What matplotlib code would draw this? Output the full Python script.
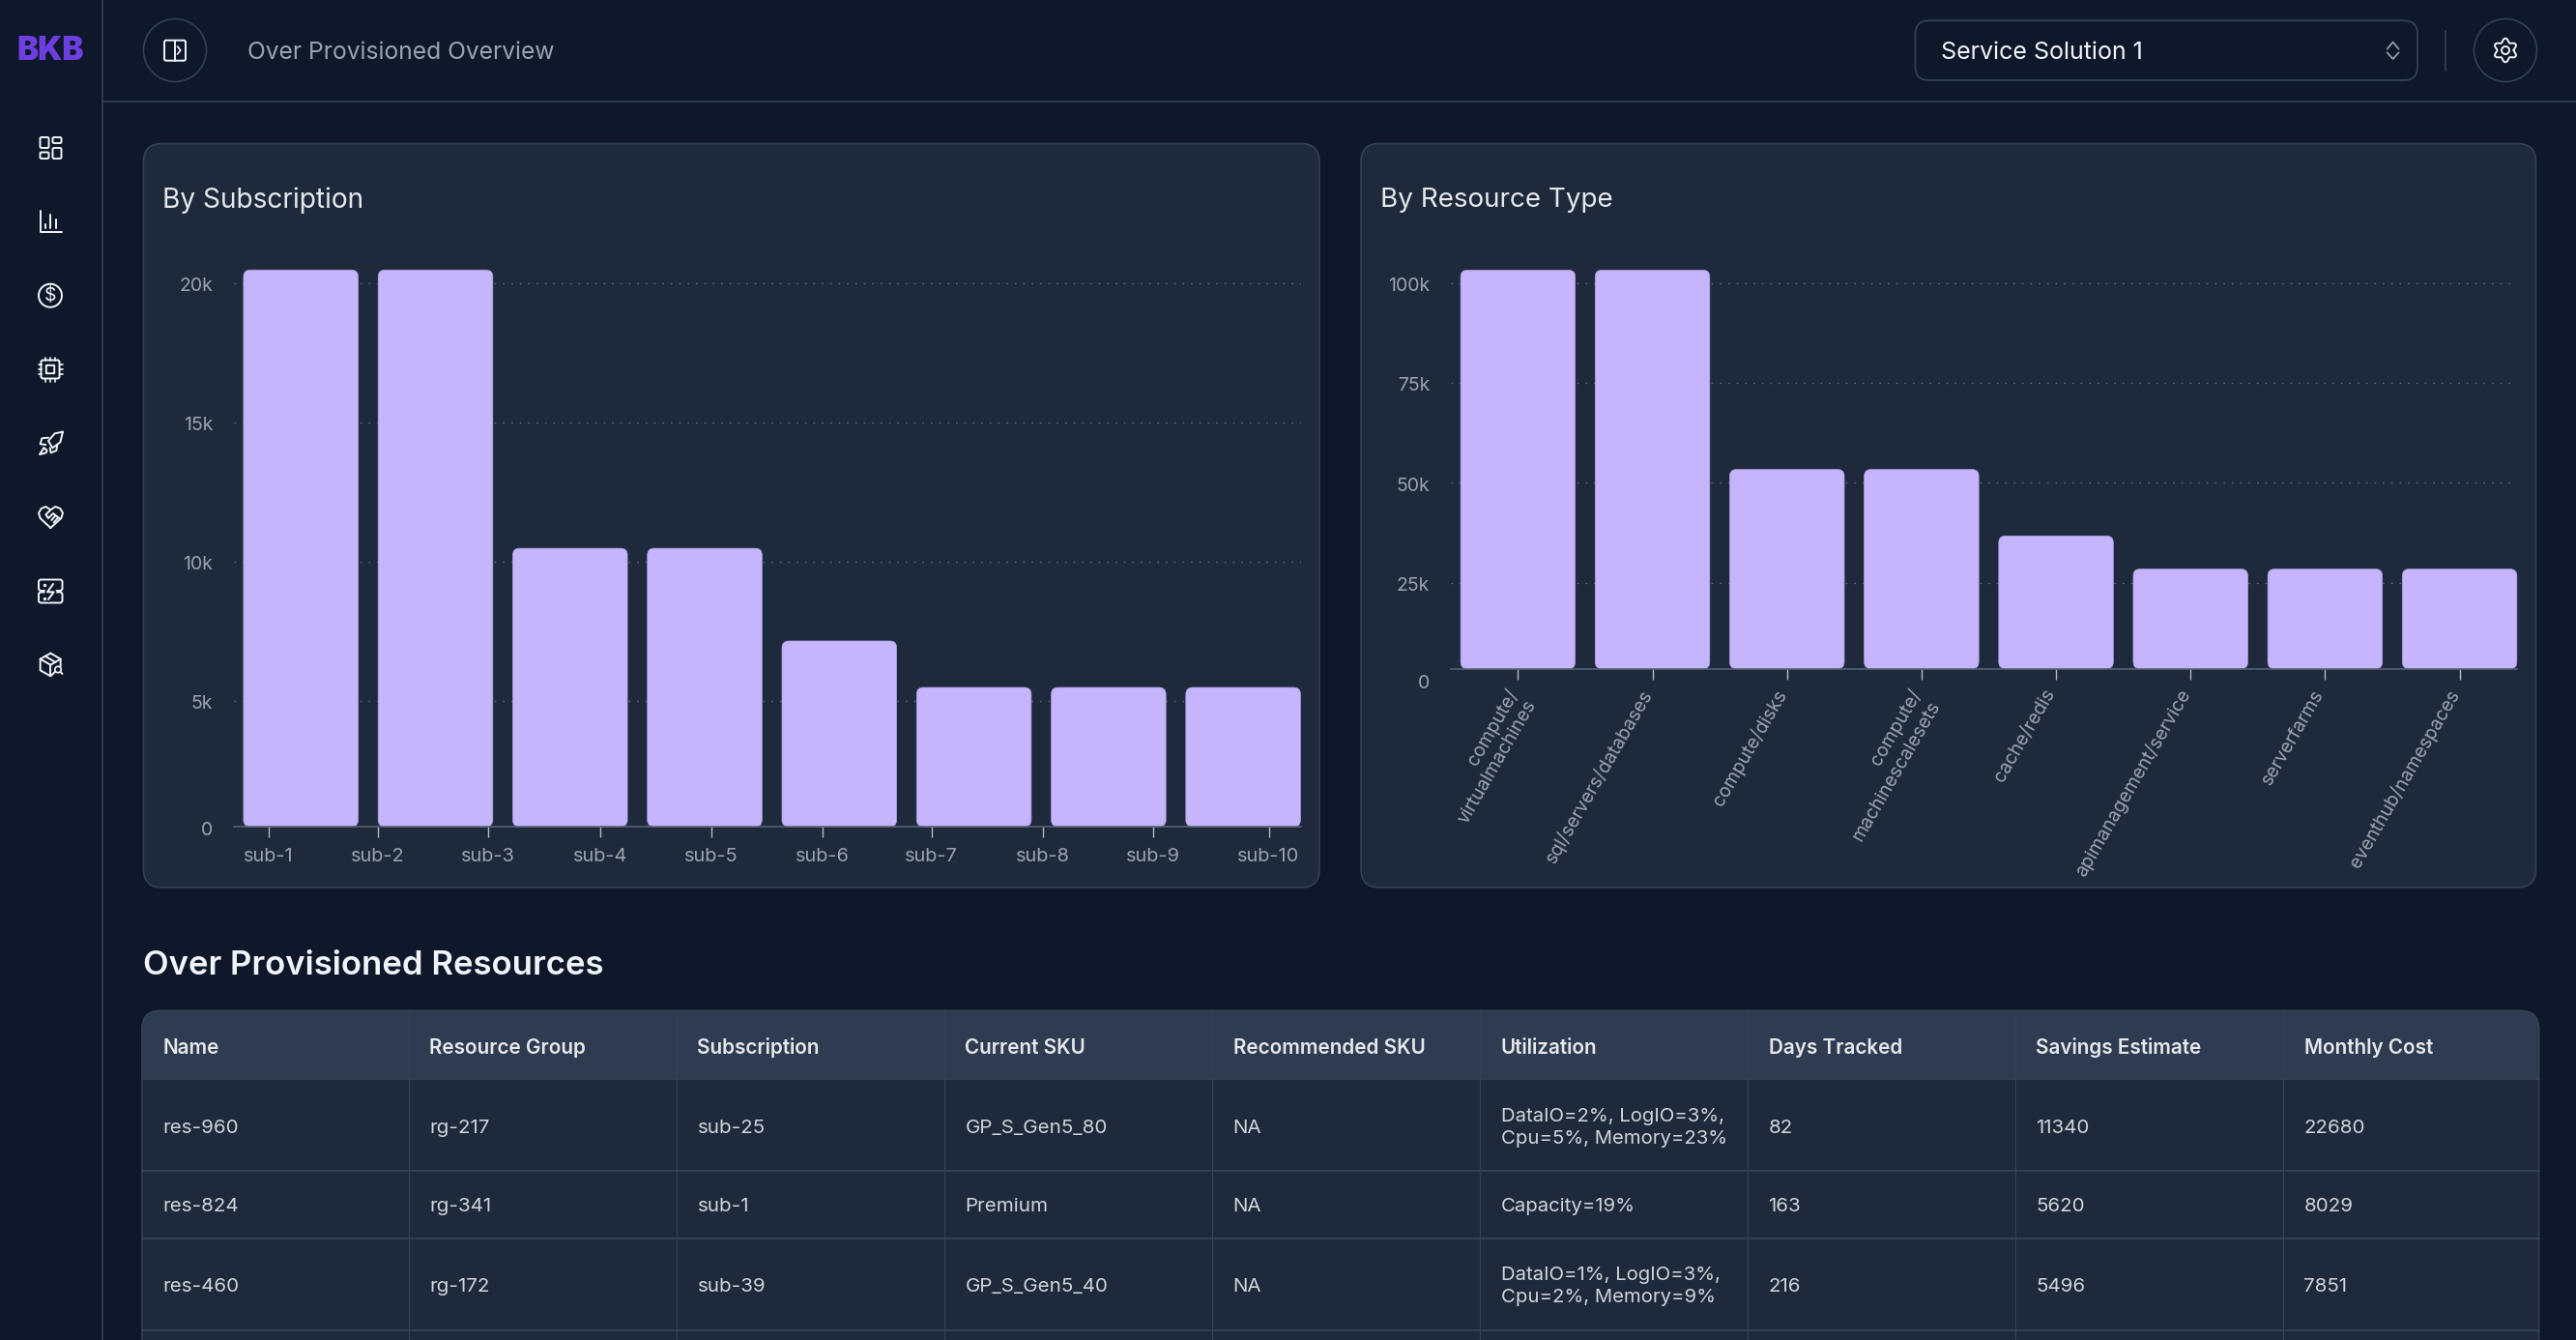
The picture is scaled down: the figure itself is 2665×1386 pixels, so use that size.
import numpy as np
import matplotlib
matplotlib.use("Agg")
import matplotlib.pyplot as plt
from matplotlib.patches import FancyBboxPatch, Circle, Rectangle
from matplotlib.transforms import ScaledTranslation

plt.rcParams['font.family'] = ['Inter', 'DejaVu Sans']

W, H = 2665, 1386

# chart data
sub_labels = ["sub-1", "sub-2", "sub-3", "sub-4", "sub-5", "sub-6", "sub-7", "sub-8", "sub-9", "sub-10"]
sub_values = [20480, 20480, 10240, 10240, 6830, 5120, 5120, 5120]
sub_tick_x = [-0.24, 0.573, 1.394, 2.224, 3.05, 3.873, 4.686, 5.512, 6.332, 7.19]
sub_grid = [0, 4624, 9756, 14878, 20000]
sub_grid_labels = ["0", "5k", "10k", "15k", "20k"]

res_labels = ["compute/\nvirtualmachines", "sql/servers/databases", "compute/disks",
              "compute/\nmachinescalesets", "cache/redis", "apimanagement/service",
              "serverfarms", "eventhub/namespaces"]
res_values = [102400, 102400, 51200, 51200, 34130, 25600, 25600, 25600]
res_grid = [0, 22120, 47800, 73450, 99080]
res_grid_labels = ["0", "25k", "50k", "75k", "100k"]

# table data
headers = ["Name", "Resource Group", "Subscription", "Current SKU", "Recommended SKU",
           "Utilization", "Days Tracked", "Savings Estimate", "Monthly Cost"]
row1 = ["res-960", "rg-217", "sub-25", "GP_S_Gen5_80", "NA",
        "DataIO=2%, LogIO=3%,\nCpu=5%, Memory=23%", "82", "11340", "22680"]
row2 = ["res-824", "rg-341", "sub-1", "Premium", "NA", "Capacity=19%", "163", "5620", "8029"]
row3 = ["res-460", "rg-172", "sub-39", "GP_S_Gen5_40", "NA",
        "DataIO=1%, LogIO=3%,\nCpu=2%, Memory=9%", "216", "5496", "7851"]
rows = [row1, row2, row3]

BG = "#0f172a"
CARD = "#1e293b"
HEAD = "#2e3b51"
LINE = "#334155"
GREY = "#9ca3af"
WHITE = "#f1f5f9"
BAR = "#c4b5fd"

fig = plt.figure(figsize=(W / 100, H / 100), dpi=100, facecolor=BG)
ui = fig.add_axes([0, 0, 1, 1])
ui.set_xlim(0, W)
ui.set_ylim(H, 0)
ui.axis("off")


def rbox(x0, y0, x1, y1, r, fc="none", ec=WHITE, lw=1.4, z=2):
    p = FancyBboxPatch((x0, y0), x1 - x0, y1 - y0, boxstyle="round,pad=0,rounding_size=%g" % r,
                       fc=fc, ec=ec, lw=lw, zorder=z)
    ui.add_patch(p)
    return p


def line(xs, ys, c=WHITE, lw=1.4, z=3):
    ui.plot(xs, ys, color=c, lw=lw, zorder=z, solid_capstyle="round", solid_joinstyle="round")


def zline(pts, ox=0, oy=400, **kw):
    pts = np.array(pts) / 3.0
    line(pts[:, 0] + ox, pts[:, 1] + oy, **kw)


# shell
line([105.5, 105.5], [0, H], c=LINE, lw=1.2)
line([105.5, W], [105, 105], c=LINE, lw=1.2)
ui.text(52, 53, "BKB", color="#6d3fe0", fontsize=24, fontweight="black", ha="center", va="center")

# sidebar icons
rbox(41.5, 142, 50.5, 153, 1.5)
rbox(41.5, 157.5, 50.5, 164, 1.5)
rbox(54.5, 142, 63.5, 148, 1.5)
rbox(54.5, 153, 63.5, 164, 1.5)

line([41.5, 41.5, 63.5], [218, 240, 240])
line([46.5, 46.5], [232, 236])
line([52.2, 52.2], [222, 236])
line([58, 58], [227, 236])

ui.add_patch(Circle((52, 305.7), 12, fc="none", ec=WHITE, lw=1.4, zorder=3))
ui.text(52, 306, "$", color=WHITE, fontsize=14, ha="center", va="center")

rbox(42.5, 372.5, 61.5, 391.5, 2)
rbox(47.8, 377.8, 56.2, 386.2, 0.5)
for d in [-5, 0, 5]:
    line([52 + d, 52 + d], [369.5, 372.5], lw=1.2)
    line([52 + d, 52 + d], [391.5, 394.5], lw=1.2)
    line([39.5, 42.5], [382 + d, 382 + d], lw=1.2)
    line([61.5, 64.5], [382 + d, 382 + d], lw=1.2)

zline([(195, 140), (170, 145), (150, 168), (163, 190), (187, 172), (195, 140)])
zline([(150, 158), (130, 160), (125, 178), (142, 180)])
zline([(178, 180), (175, 198), (158, 205), (155, 190)])
zline([(136, 190), (123, 210), (143, 205), (146, 197), (136, 190)])

zline([(157, 438), (125, 408), (120, 392), (128, 378), (142, 372), (157, 382),
       (172, 372), (187, 378), (195, 392), (190, 408), (157, 438)])
zline([(157, 382), (142, 397), (150, 408), (165, 393), (186, 410)])
zline([(172, 400), (160, 414)])
zline([(180, 407), (167, 421)])

rbox(40, 599.5, 64.5, 611, 2.5)
rbox(40, 612.5, 64.5, 623.5, 2.5)
zline([(165, 612), (147, 637), (167, 637), (150, 660)], c=BG, lw=4)
zline([(165, 612), (147, 637), (167, 637), (150, 660)])
ui.plot([45.5, 45.5], [604.5, 618.5], ls="none", marker="o", ms=1.4, color=WHITE, zorder=3)

zline([(157, 827), (188, 845), (188, 868), (157, 898), (125, 880), (125, 845), (157, 827)])
zline([(125, 845), (157, 863), (188, 845)])
zline([(157, 863), (157, 898)])
zline([(140, 836), (172, 855)])
ui.add_patch(Circle((60, 692.5), 3.2, fc=BG, ec=WHITE, lw=1.2, zorder=4))
line([62.5, 64.5], [695, 697], z=4)

# top bar
ui.add_patch(Circle((181, 52), 32.5, fc="none", ec=LINE, lw=1.2))
rbox(170, 41.7, 192, 62.7, 2)
line([180.8, 180.8], [41.7, 62.7])
line([183.5, 186.8, 183.5], [48, 52, 56], lw=1.2)
ui.text(256, 52, "Over Provisioned Overview", color=GREY, fontsize=17.7, ha="left", va="center_baseline")

rbox(1981.5, 21.3, 2501, 83, 14, ec=LINE, lw=1.3)
ui.text(2008, 52, "Service Solution 1", color=WHITE, fontsize=18, ha="left", va="center_baseline")
line([2469.6, 2475.6, 2481.6], [50.7, 43.5, 50.7], c=GREY, lw=1.2)
line([2469.6, 2475.6, 2481.6], [54.3, 61, 54.3], c=GREY, lw=1.2)
line([2530, 2530], [31.7, 72.7], c=LINE, lw=1.2)
ui.add_patch(Circle((2592, 52), 32.5, fc="none", ec=LINE, lw=1.2))
theta = np.linspace(0, 2 * np.pi, 200)
gear_r = 10.4 + 1.9 * np.cos(6 * (theta - np.pi / 2))
line(2592 + gear_r * np.cos(theta), 52 - gear_r * np.sin(theta))
ui.add_patch(Circle((2592, 52), 4, fc="none", ec=WHITE, lw=1.4, zorder=3))

# cards
rbox(148.5, 148.5, 1365, 918, 19, fc=CARD, ec=LINE, lw=1.2, z=1)
rbox(1408, 148.5, 2623.5, 918, 19, fc=CARD, ec=LINE, lw=1.2, z=1)
ui.text(168.5, 204, "By Subscription", color="#e5e7eb", fontsize=20.2, ha="left", va="center_baseline")
ui.text(1428, 204, "By Resource Type", color="#e5e7eb", fontsize=20, ha="left", va="center_baseline")


def bar_chart(x0, x1, y_base, px_per_unit, values, tick_x, grid_y, grid_labels):
    y_top = 270
    ax = fig.add_axes([x0 / W, 1 - y_base / H, (x1 - x0) / W, (y_base - y_top) / H])
    ax.patch.set_alpha(0)
    ax.set_zorder(2)
    step = (x1 - x0) / 7.927
    pos = np.arange(len(values))
    ax.set_xlim(-0.5, 7.427)
    ax.set_ylim(0, (y_base - y_top) / px_per_unit)
    bars = ax.bar(pos, values, width=0.852)
    aspect = (1 / px_per_unit) / (1 / step)
    for b in bars:
        # swap each bar for a rounded one in the same place
        b.set_visible(False)
        ax.add_patch(FancyBboxPatch((b.get_x(), 0), b.get_width(), b.get_height(),
                                    boxstyle="round,pad=0,rounding_size=%g" % (7 / step),
                                    mutation_aspect=aspect, fc=BAR, ec="#a99ce0", lw=0.5,
                                    zorder=3, clip_on=False))
    ax.set_yticks(grid_y)
    ax.set_yticklabels(grid_labels)
    ax.set_xticks(tick_x)
    ax.grid(axis="y", color="#5a6473", lw=1.0, ls=(0, (1.3, 4.95)), zorder=1)
    ax.set_axisbelow(True)
    for s in ["top", "left", "right"]:
        ax.spines[s].set_visible(False)
    ax.spines["bottom"].set_color("#5b6575")
    ax.spines["bottom"].set_linewidth(1.1)
    ax.spines["bottom"].set_zorder(4)
    ax.tick_params(axis="y", length=0, pad=15.5, labelsize=14, labelcolor=GREY)
    ax.tick_params(axis="x", length=8, width=1, color="#b4b9c3", pad=8, labelsize=14.4, labelcolor=GREY)
    for lab in ax.get_yticklabels():
        lab.set_transform(lab.get_transform() + ScaledTranslation(0, -1.5 / 100, fig.dpi_scale_trans))
    return ax


ax1 = bar_chart(241.6, 1345.6, 855, 0.028115, sub_values, sub_tick_x, sub_grid, sub_grid_labels)
ax1.set_xticklabels(sub_labels)

ax2 = bar_chart(1500.8, 2604, 691.7, 0.004027, res_values, np.arange(8), res_grid, res_grid_labels)
ax2.set_xticklabels(res_labels, rotation=60, ha="right", va="top", rotation_mode="anchor",
                    multialignment="right", linespacing=1.3, fontsize=13.9)
ax2.tick_params(axis="x", pad=5)
for lab in ax2.get_xticklabels():
    lab.set_transform(lab.get_transform() + ScaledTranslation(-13 / 100, 0, fig.dpi_scale_trans))
# the zero label sits lower than the axis line in this chart
zero = ax2.get_yticklabels()[0]
zero.set_transform(zero.get_transform() + ScaledTranslation(0, -12 / 100, fig.dpi_scale_trans))

# table
ui.text(148, 995, "Over Provisioned Resources", color=WHITE, fontsize=25, fontweight="semibold",
        ha="left", va="center_baseline")
col_x = [147, 423, 700, 977, 1254, 1531.4, 1808, 2085, 2362, 2626.5]
row_y = [1116, 1211, 1280.7, 1375.7]
row_mid = [1166.5, 1248, 1330.5]
rbox(147, 1045.5, 2626.5, 1420, 19, fc=CARD, ec=LINE, lw=1.2, z=1)
head = rbox(147, 1045.5, 2626.5, 1200, 19, fc=HEAD, ec=LINE, lw=1.2, z=1.1)
head.set_clip_path(Rectangle((0, 0), W, 1116, transform=ui.transData))
for x in col_x[1:-1]:
    line([x, x], [1046, H], c=LINE, lw=0.9, z=1.5)
for y in row_y:
    line([147, 2626.5], [y, y], c=LINE, lw=1.4, z=1.5)
for j, name in enumerate(headers):
    ui.text(col_x[j] + 21.5, 1082, name, color="#e5e7eb", fontsize=14.9, fontweight="semibold",
            ha="left", va="center_baseline", zorder=3)
for i, row in enumerate(rows):
    for j, val in enumerate(row):
        ui.text(col_x[j] + 21.5, row_mid[i], val, color="#d1d5db", fontsize=14.6 if j == 5 else 14.8,
                ha="left", va="center", linespacing=1.3, zorder=3)

fig.savefig("out.png", dpi=100, facecolor=BG)
